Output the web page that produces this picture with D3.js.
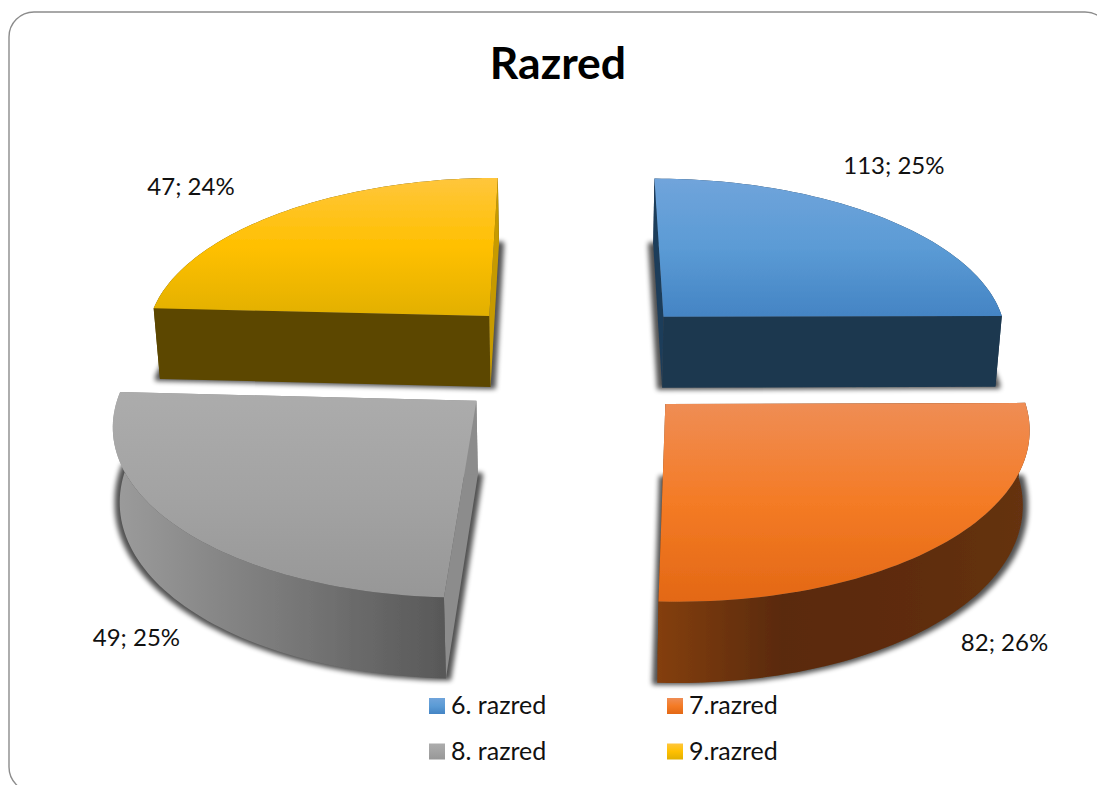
<!DOCTYPE html>
<html><head><meta charset="utf-8">
<script src="https://cdn.jsdelivr.net/npm/d3@7"></script>
<style>html,body{margin:0;padding:0;background:#fff;overflow:hidden}svg{display:block}text{font-family:Lato,Carlito,sans-serif;fill:#111}</style>
</head><body>
<script>
const title = "Razred";
const categories = ["6. razred", "7.razred", "8. razred", "9.razred"];
const counts = [113, 82, 49, 47];
const percents = [25, 26, 25, 24];
// unrounded shares
const shares = [24.9, 25.85, 25.05, 24.2];

// styles (top gradient stops, side colours) per category
const topStops = [["#70a4db","#5b9bd5","#4484c4"],["#ef8d55","#f47b25","#e36815"],["#acacac","#a3a3a3","#979797"],["#ffc63c","#ffc000","#e2b000"]];
const cutColors = [["#1d3c5a","#1c374f"],["#5f2f0c","#7a3c0c"],["#8c8c8c","#8c8c8c"],["#5c4700","#c69a00"]];
const wallStops = [["#1c374f","#1c374f"],["#843f0c","#5a2a08","#5e2c0a","#663312"],["#9c9c9c","#7a7a7a","#585858"],["#5c4700","#5c4700"]];
const labelOffsets = [[16,-42],[57.5,110],[-42,119],[-89,-18]];
const nudges = [[0.002,0],[-0.004,0],[0.004,0],[0.006,0]];

const W = 1097, H = 785;
const svg = d3.select("body").append("svg").attr("width", W).attr("height", H);
const defs = svg.append("defs");

// projection of the pie plane
const persp = 0.116, shrink = 0.015, explode = 0.372;
const xS = d3.scaleLinear().domain([-1, 1]).range([574 - 349, 574 + 349]);
const yS = d3.scaleLinear().domain([-1, 1]).range([358.7 - 163.4, 358.7 + 163.4]);
const zS = d3.scaleLinear().domain([0, 1]).range([0, 72.5]);
function project(X, Y, Z) {
  const w = 1 - persp * Y, k = 1 - shrink * Z;
  return [xS(X / w * k), yS(Y / w * k) + zS(Z) / w];
}
const slices = d3.pie().sort(null).value(d => d)(shares);
const line = d3.line();
const offsetOf = s => {
  const m = (s.startAngle + s.endAngle) / 2;
  return [explode * Math.sin(m) + nudges[s.index][0], -explode * Math.cos(m) + nudges[s.index][1]];
};
const rim = (s, Z) => {
  const [ox, oy] = offsetOf(s);
  const n = 64;
  return d3.range(n + 1).map(i => {
    const a = s.startAngle + (s.endAngle - s.startAngle) * i / n;
    return project(ox + Math.sin(a), oy - Math.cos(a), Z);
  });
};
const apex = (s, Z) => { const [ox, oy] = offsetOf(s); return project(ox, oy, Z); };

function grad(id, stops, vertical) {
  const g = defs.append("linearGradient").attr("id", id)
    .attr("x1", 0).attr("y1", 0).attr("x2", vertical ? 0 : 1).attr("y2", vertical ? 1 : 0);
  stops.forEach((c, i) => g.append("stop").attr("offset", i / (stops.length - 1)).attr("stop-color", c));
}
categories.forEach((c, i) => { grad("top" + i, topStops[i], true); grad("wall" + i, wallStops[i], false); });

const sh = defs.append("filter").attr("id", "shadow").attr("x", "-10%").attr("y", "-10%").attr("width", "120%").attr("height", "120%");
sh.append("feMorphology").attr("operator", "dilate").attr("radius", "5 2").attr("in", "SourceGraphic").attr("result", "d");
sh.append("feGaussianBlur").attr("in", "d").attr("stdDeviation", 2.6);
const soft = defs.append("filter").attr("id", "soft").attr("x", "-2%").attr("y", "-2%").attr("width", "104%").attr("height", "104%");
soft.append("feGaussianBlur").attr("stdDeviation", 0.5);

// frame
svg.append("rect").attr("x", 9).attr("y", 12).attr("width", 1101).attr("height", 780).attr("rx", 25)
  .attr("fill", "none").attr("stroke", "#8c8c8c").attr("stroke-width", 1.4);

svg.append("text").attr("x", 558).attr("y", 79).attr("text-anchor", "middle")
  .attr("font-size", 44.5).attr("font-weight", 700).style("fill", "#000").text(title);

// paint back slices first
const order = [3, 0, 2, 1];
order.forEach(i => {
  const s = slices[i], g = svg.append("g");
  const front = Math.cos((s.startAngle + s.endAngle) / 2) < 0;
  const topRim = rim(s, 0), botRim = rim(s, 1);
  const a0 = apex(s, 0), a1 = apex(s, 1);
  g.append("path").attr("d", line([a1, ...botRim]) + "Z").attr("fill", "#000").attr("opacity", 0.68).attr("filter", "url(#shadow)");
  const body = g.append("g").attr("filter", "url(#soft)");
  const wall = () => body.append("path").attr("d", line([...topRim, ...botRim.slice().reverse()]) + "Z").attr("fill", `url(#wall${i})`);
  if (!front) wall();
  body.append("path").attr("d", line([a0, topRim[0], botRim[0], a1]) + "Z").attr("fill", cutColors[i][0]);
  const n = topRim.length - 1;
  body.append("path").attr("d", line([a0, topRim[n], botRim[n], a1]) + "Z").attr("fill", cutColors[i][1]);
  if (front) wall();
  body.append("path").attr("d", line([a0, ...topRim]) + "Z").attr("fill", `url(#top${i})`);
});

// data labels
slices.forEach((s, i) => {
  const p = rim(s, 0)[32];
  svg.append("text").attr("x", p[0] + labelOffsets[i][0]).attr("y", p[1] + labelOffsets[i][1])
    .attr("text-anchor", "middle").attr("font-size", 24).text(`${counts[i]}; ${percents[i]}%`);
});

// legend
const legX = d3.scalePoint().domain([0, 1]).range([429, 667]);
const legY = d3.scalePoint().domain([0, 1]).range([698, 743.5]);
categories.forEach((c, i) => {
  const col = i % 2, row = Math.floor(i / 2);
  svg.append("rect").attr("x", legX(col)).attr("y", legY(row)).attr("width", 16).attr("height", 16).attr("fill", `url(#top${i})`);
  svg.append("text").attr("x", legX(col) + 22).attr("y", legY(row) + 16).attr("font-size", 25).text(c);
});
</script>
</body></html>
